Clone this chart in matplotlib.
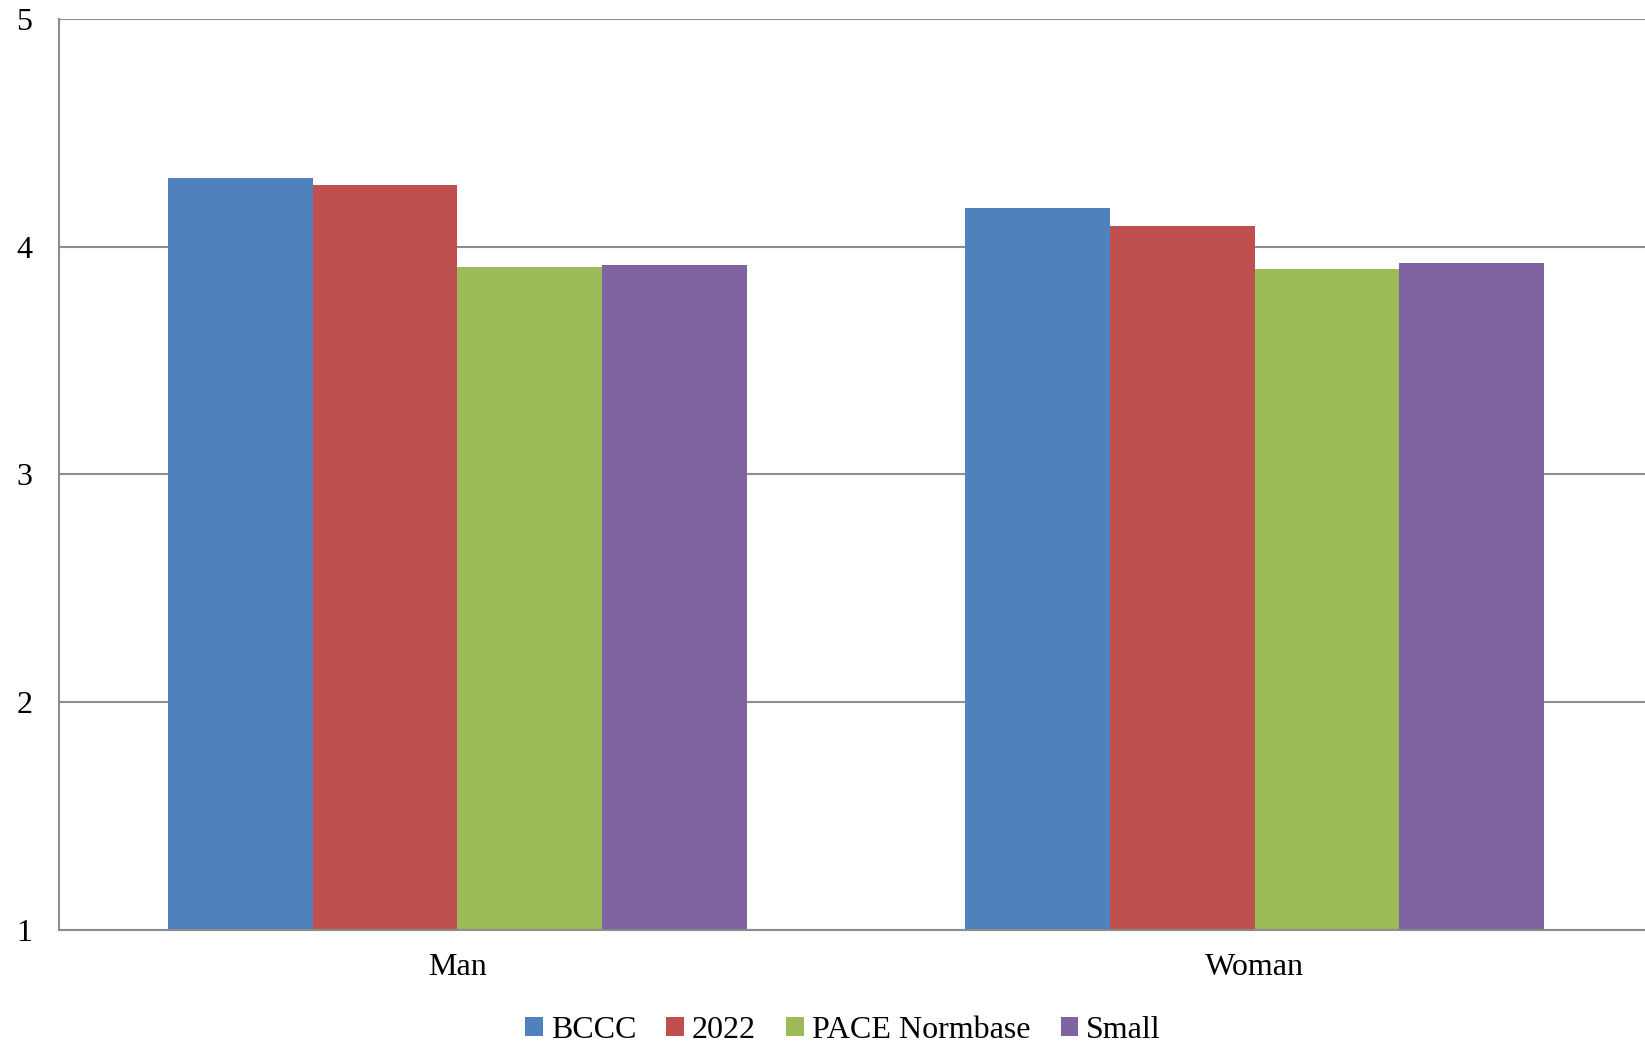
import numpy as np
import matplotlib.pyplot as plt

# data
categories = ['Man', 'Woman']
series_names = ['BCCC', '2022', 'PACE Normbase', 'Small']
bccc = [4.30, 4.17]
y2022 = [4.27, 4.09]
pace = [3.91, 3.90]
small = [3.92, 3.93]
yticks = [1, 2, 3, 4, 5]

colors = ['#4F81BD', '#C0504D', '#9BBB59', '#8064A2']

plt.rcParams['font.family'] = ['Liberation Serif', 'DejaVu Serif']

fig = plt.figure(figsize=(16.45, 10.45), dpi=100)
# axes run slightly past the right edge, like the cropped original
ax = fig.add_axes([0.0357, 0.1105, 0.9693, 0.8714])

x = np.arange(len(categories))
w = 0.1816
for i, (vals, name) in enumerate(zip([bccc, y2022, pace, small], series_names)):
    ax.bar(x + (i - 1.5) * w, np.array(vals) - 1, width=w, bottom=1,
           color=colors[i], label=name, zorder=2)

ax.set_xlim(-0.5, 1.5)
ax.set_ylim(1, 5)
ax.set_yticks(yticks)
ax.set_xticks(x)
ax.set_xticklabels(categories)
ax.tick_params(axis='both', length=0, labelsize=23)
ax.tick_params(axis='y', pad=19)
ax.tick_params(axis='x', pad=17)

ax.yaxis.grid(True, color='#8C8C8C', linewidth=1.5)
ax.set_axisbelow(True)
for s in ['top', 'right']:
    ax.spines[s].set_visible(False)
for s in ['left', 'bottom']:
    ax.spines[s].set_color('#8C8C8C')
    ax.spines[s].set_linewidth(1.5)

fig.legend(loc='center', bbox_to_anchor=(843 / 1645, 1 - 1030 / 1045),
           ncol=4, frameon=False, fontsize=23, handlelength=0.55,
           handleheight=0.55, handletextpad=0.25, columnspacing=0.95)

plt.savefig('out.png', dpi=100)
